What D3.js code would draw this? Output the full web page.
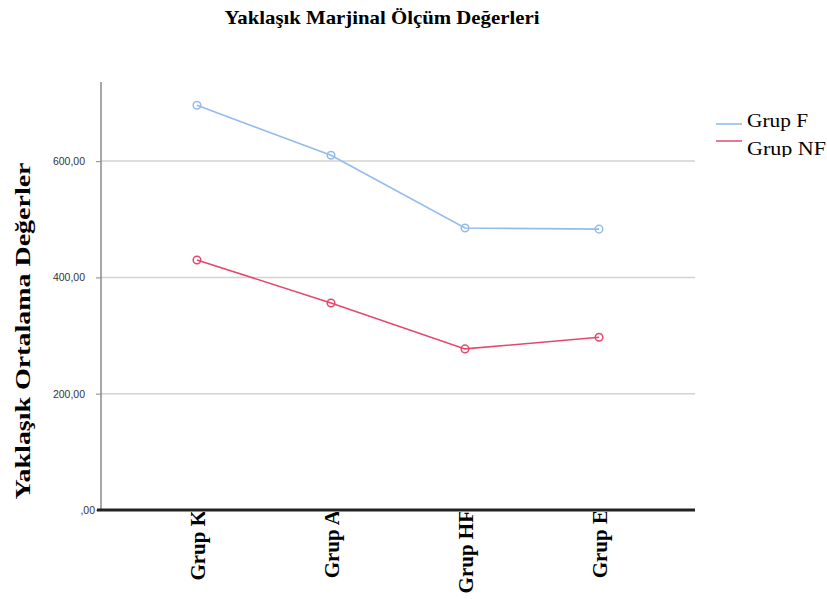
<!DOCTYPE html>
<html><head><meta charset="utf-8">
<script src="https://cdn.jsdelivr.net/npm/d3@7"></script>
<style>body{margin:0;background:#fff}</style>
</head><body>
<svg id="c" width="827" height="599"></svg>
<script>
const categories = ["Grup K", "Grup A", "Grup HF", "Grup E"];
const seriesNames = ["Grup F", "Grup NF"];
const grupF = [696, 610, 485, 483];
const grupNF = [430, 356, 277, 297];
const yTicks = [0, 200, 400, 600];
const colors = ["#94bbee", "#e5486c"];
const legendColors = ["#a9c9f2", "#ea7890"];

(function () {
const svg = d3.select("#c");
const pLeft = 101, pRight = 695, pTop = 82, pBottom = 510;
const x = d3.scalePoint().domain(categories).range([pLeft, pRight]).padding(0.716);
const y = d3.scaleLinear().domain([0, 736]).range([pBottom, pTop]);

// title
svg.append("text").attr("x", 382).attr("y", 24).attr("text-anchor", "middle")
  .attr("font-family", "Liberation Serif").attr("font-weight", "bold").attr("font-size", 19)
  .attr("textLength", 315).attr("lengthAdjust", "spacingAndGlyphs")
  .attr("fill", "#000").text("Yaklaşık Marjinal Ölçüm Değerleri");

// gridlines
svg.append("g").selectAll("line").data(yTicks.filter(d => d > 0)).join("line")
  .attr("x1", pLeft).attr("x2", pRight).attr("y1", d => y(d)).attr("y2", d => y(d))
  .attr("stroke", "#d2d2d2").attr("stroke-width", 1.5);

// y axis
const fmt = d => d3.format(".2f")(d).replace(".", ",").replace(/^0,/, ",");
const yAxis = svg.append("g").attr("transform", `translate(${pLeft},0)`)
  .call(d3.axisLeft(y).tickValues(yTicks).tickFormat(fmt).tickSize(5));
yAxis.select(".domain").remove();
yAxis.selectAll(".tick line").attr("stroke", "#9a9a9a").attr("stroke-width", 1.2);
yAxis.selectAll(".tick text").attr("font-family", "Liberation Sans").attr("font-size", 10.5)
  .attr("fill", "#333").attr("x", d => d === 0 ? -6 : -16);
svg.append("line").attr("x1", pLeft).attr("x2", pLeft).attr("y1", pTop).attr("y2", pBottom)
  .attr("stroke", "#8a8a8a").attr("stroke-width", 1.5);

// y title
svg.append("text").attr("transform", "translate(30,331) rotate(-90)").attr("text-anchor", "middle")
  .attr("font-family", "Liberation Serif").attr("font-weight", "bold").attr("font-size", 21)
  .attr("textLength", 337).attr("lengthAdjust", "spacingAndGlyphs")
  .text("Yaklaşık Ortalama Değerler");

// x labels (clipped under axis)
svg.append("clipPath").attr("id", "xl").append("rect").attr("x", 0).attr("y", 512).attr("width", 827).attr("height", 90);
const xl = svg.append("g").attr("clip-path", "url(#xl)");
xl.selectAll("text").data(categories).join("text")
  .attr("transform", d => `translate(${x(d) + 8},510) rotate(-90)`)
  .attr("text-anchor", "end").attr("font-family", "Liberation Serif").attr("font-weight", "bold")
  .attr("font-size", 21).text(d => d);

// x axis line
svg.append("line").attr("x1", pLeft - 4).attr("x2", pRight).attr("y1", pBottom).attr("y2", pBottom)
  .attr("stroke", "#222").attr("stroke-width", 3);

// series
const series = [grupF, grupNF];
const line = d3.line().x((d, i) => x(categories[i])).y(d => y(d));
series.forEach((s, k) => {
  svg.append("path").datum(s).attr("d", line).attr("fill", "none")
    .attr("stroke", colors[k]).attr("stroke-width", 1.6);
  svg.append("g").selectAll("circle").data(s).join("circle")
    .attr("cx", (d, i) => x(categories[i])).attr("cy", d => y(d)).attr("r", 3.8)
    .attr("fill", "none").attr("stroke", colors[k]).attr("stroke-width", 1.5);
});

// legend
svg.append("clipPath").attr("id", "lgc").append("rect").attr("x", 700).attr("y", 100).attr("width", 127).attr("height", 57);
const lg = svg.append("g").attr("clip-path", "url(#lgc)");
seriesNames.forEach((n, k) => {
  const yy = 124 + k * 17;
  lg.append("line").attr("x1", 716).attr("x2", 742).attr("y1", yy).attr("y2", yy)
    .attr("stroke", legendColors[k]).attr("stroke-width", 2);
  lg.append("text").attr("x", 747).attr("y", 127 + k * 28).attr("font-family", "Liberation Serif")
    .attr("font-size", 19).attr("textLength", k === 0 ? 61 : 79).attr("lengthAdjust", "spacingAndGlyphs")
    .text(n);
});
})();
</script>
</body></html>
